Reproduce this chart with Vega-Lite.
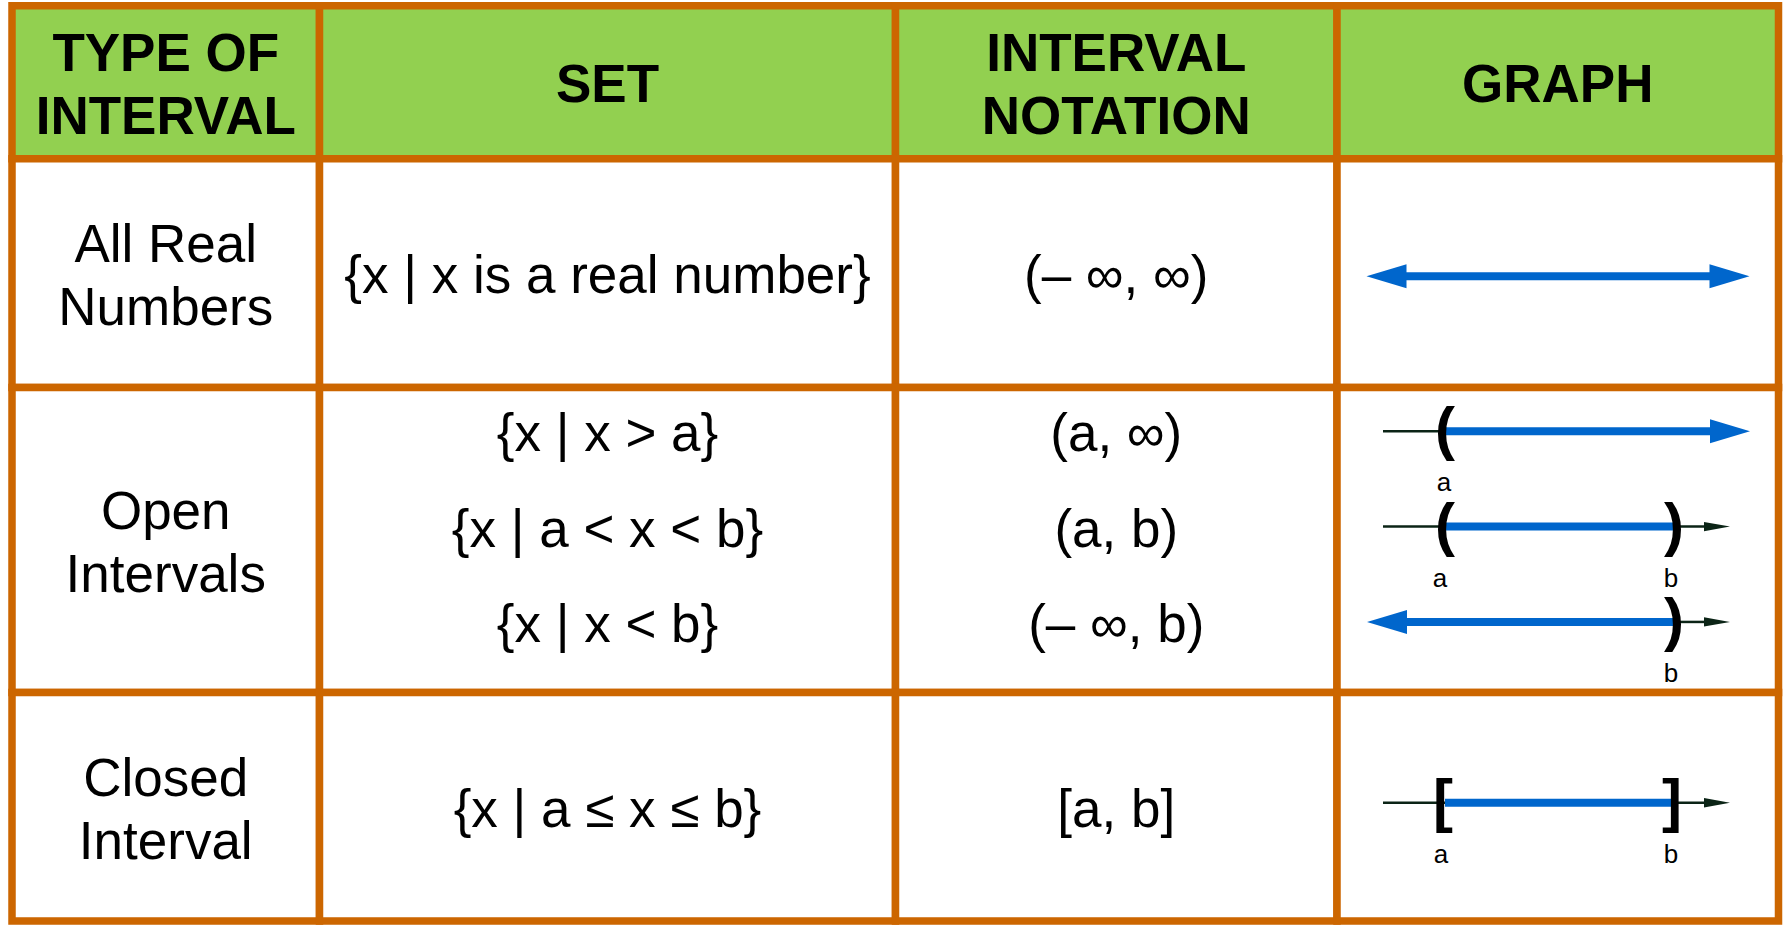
{
  "$schema": "https://vega.github.io/schema/vega-lite/v6.json",
  "width": 1785,
  "height": 925,
  "autosize": {"type": "fit", "contains": "padding"},
  "padding": 0,
  "background": "#ffffff",
  "config": {"view": {"stroke": null}, "font": "Liberation Sans"},
  "datasets": {
    "cells": [
      {"part": "header", "x": 12, "x2": 319.5, "y": 5.7, "y2": 159.7},
      {"part": "header", "x": 319.5, "x2": 895.5, "y": 5.7, "y2": 159.7},
      {"part": "header", "x": 895.5, "x2": 1337, "y": 5.7, "y2": 159.7},
      {"part": "header", "x": 1337, "x2": 1778.5, "y": 5.7, "y2": 159.7},
      {"part": "body", "x": 12, "x2": 319.5, "y": 159.7, "y2": 390},
      {"part": "body", "x": 319.5, "x2": 895.5, "y": 159.7, "y2": 390},
      {"part": "body", "x": 895.5, "x2": 1337, "y": 159.7, "y2": 390},
      {"part": "body", "x": 1337, "x2": 1778.5, "y": 159.7, "y2": 390},
      {"part": "body", "x": 12, "x2": 319.5, "y": 390, "y2": 697},
      {"part": "body", "x": 319.5, "x2": 895.5, "y": 390, "y2": 697},
      {"part": "body", "x": 895.5, "x2": 1337, "y": 390, "y2": 697},
      {"part": "body", "x": 1337, "x2": 1778.5, "y": 390, "y2": 697},
      {"part": "body", "x": 12, "x2": 319.5, "y": 697, "y2": 927},
      {"part": "body", "x": 319.5, "x2": 895.5, "y": 697, "y2": 927},
      {"part": "body", "x": 895.5, "x2": 1337, "y": 697, "y2": 927},
      {"part": "body", "x": 1337, "x2": 1778.5, "y": 697, "y2": 927}
    ],
    "headers": [
      {"x": 165.75, "y": 82.7, "t": "TYPE OF\nINTERVAL", "lines": 2},
      {"x": 607.5, "y": 82.7, "t": "SET", "lines": 1},
      {"x": 1116.25, "y": 82.7, "t": "INTERVAL\nNOTATION", "lines": 2},
      {"x": 1557.75, "y": 82.7, "t": "GRAPH", "lines": 1}
    ],
    "body": [
      {"x": 165.75, "y": 274.85, "t": "All Real\nNumbers", "lines": 2},
      {"x": 165.75, "y": 543.5, "t": "Open\nIntervals", "lines": 2},
      {"x": 165.75, "y": 812, "t": "Closed\nInterval", "lines": 2},
      {"x": 607.5, "y": 274.85, "t": "{x | x is a real number}", "lines": 1},
      {"x": 607.5, "y": 434, "t": "{x | x > a}", "lines": 1},
      {"x": 607.5, "y": 530, "t": "{x | a < x < b}", "lines": 1},
      {"x": 607.5, "y": 626, "t": "{x | x < b}", "lines": 1},
      {"x": 607.5, "y": 812, "t": "{x | a ≤ x ≤ b}", "lines": 1},
      {"x": 1116.25, "y": 274.85, "t": "(– ∞, ∞)", "lines": 1},
      {"x": 1116.25, "y": 434, "t": "(a, ∞)", "lines": 1},
      {"x": 1116.25, "y": 530, "t": "(a, b)", "lines": 1},
      {"x": 1116.25, "y": 626, "t": "(– ∞, b)", "lines": 1},
      {"x": 1116.25, "y": 812, "t": "[a, b]", "lines": 1}
    ],
    "axisLines": [
      {"graph": "x > a", "x": 1383, "x2": 1712, "y": 434},
      {"graph": "a < x < b", "x": 1383, "x2": 1706, "y": 530},
      {"graph": "x < b", "x": 1677, "x2": 1706, "y": 626},
      {"graph": "a ≤ x ≤ b", "x": 1383, "x2": 1706, "y": 808}
    ],
    "intervals": [
      {"graph": "all", "x": 1395, "x2": 1722, "y": 278},
      {"graph": "x > a", "x": 1445, "x2": 1722, "y": 434},
      {"graph": "a < x < b", "x": 1445, "x2": 1675, "y": 530},
      {"graph": "x < b", "x": 1395, "x2": 1677, "y": 626},
      {"graph": "a ≤ x ≤ b", "x": 1445, "x2": 1673, "y": 808}
    ],
    "arrows": [
      {"graph": "all", "kind": "interval", "dir": "left", "x": 1366.5, "y": 278},
      {"graph": "all", "kind": "interval", "dir": "right", "x": 1749.5, "y": 278},
      {"graph": "x > a", "kind": "interval", "dir": "right", "x": 1750, "y": 434},
      {"graph": "a < x < b", "kind": "axis", "dir": "right", "x": 1730, "y": 530},
      {"graph": "x < b", "kind": "interval", "dir": "left", "x": 1367, "y": 626},
      {"graph": "x < b", "kind": "axis", "dir": "right", "x": 1730, "y": 626},
      {"graph": "a ≤ x ≤ b", "kind": "axis", "dir": "right", "x": 1730, "y": 808}
    ],
    "brackets": [
      {"graph": "x > a", "x": 1445, "y": 434, "t": "("},
      {"graph": "a < x < b", "x": 1445, "y": 530, "t": "("},
      {"graph": "a < x < b", "x": 1674, "y": 530, "t": ")"},
      {"graph": "x < b", "x": 1674, "y": 626, "t": ")"},
      {"graph": "a ≤ x ≤ b", "x": 1443, "y": 808, "t": "["},
      {"graph": "a ≤ x ≤ b", "x": 1672, "y": 808, "t": "]"}
    ],
    "endLabels": [
      {"graph": "x > a", "x": 1444, "y": 434, "t": "a"},
      {"graph": "a < x < b", "x": 1440, "y": 530, "t": "a"},
      {"graph": "a < x < b", "x": 1671, "y": 530, "t": "b"},
      {"graph": "x < b", "x": 1671, "y": 626, "t": "b"},
      {"graph": "a ≤ x ≤ b", "x": 1441, "y": 808, "t": "a"},
      {"graph": "a ≤ x ≤ b", "x": 1671, "y": 808, "t": "b"}
    ]
  },
  "encoding": {
    "x": {"field": "x", "type": "quantitative", "scale": {"domain": [0, 1785], "nice": false, "zero": false}, "axis": null},
    "y": {"field": "y", "type": "quantitative", "scale": {"domain": [0, 925], "nice": false, "zero": false, "reverse": true}, "axis": null}
  },
  "layer": [
    {
      "data": {"name": "cells"},
      "mark": {"type": "rect", "stroke": "#CC6600", "strokeWidth": 7.5},
      "encoding": {
        "x2": {"field": "x2"},
        "y2": {"field": "y2"},
        "color": {"field": "part", "type": "nominal", "scale": {"domain": ["header", "body"], "range": ["#92D050", "#FFFFFF"]}, "legend": null}
      }
    },
    {
      "data": {"name": "headers"},
      "transform": [{"filter": "datum.lines == 1"}],
      "mark": {"type": "text", "font": "Liberation Sans", "fontWeight": "bold", "fontSize": 53, "align": "center", "baseline": "middle", "dy": 4, "color": "#000000"},
      "encoding": {"text": {"field": "t"}}
    },
    {
      "data": {"name": "headers"},
      "transform": [{"filter": "datum.lines == 2"}],
      "mark": {"type": "text", "font": "Liberation Sans", "fontWeight": "bold", "fontSize": 53, "lineHeight": 63.4, "lineBreak": "\n", "align": "center", "baseline": "middle", "dy": -27.2, "color": "#000000"},
      "encoding": {"text": {"field": "t"}}
    },
    {
      "data": {"name": "body"},
      "transform": [{"filter": "datum.lines == 1"}],
      "mark": {"type": "text", "font": "Liberation Sans", "fontSize": 53, "align": "center", "baseline": "middle", "dy": 4, "color": "#000000"},
      "encoding": {"text": {"field": "t"}}
    },
    {
      "data": {"name": "body"},
      "transform": [{"filter": "datum.lines == 2"}],
      "mark": {"type": "text", "font": "Liberation Sans", "fontSize": 53, "lineHeight": 63.4, "lineBreak": "\n", "align": "center", "baseline": "middle", "dy": -27.2, "color": "#000000"},
      "encoding": {"text": {"field": "t"}}
    },
    {
      "data": {"name": "axisLines"},
      "mark": {"type": "rule", "color": "#0B2416", "strokeWidth": 2.5},
      "encoding": {"x2": {"field": "x2"}}
    },
    {
      "data": {"name": "intervals"},
      "mark": {"type": "rule", "color": "#0066CC", "strokeWidth": 8},
      "encoding": {"x2": {"field": "x2"}}
    },
    {
      "data": {"name": "arrows"},
      "transform": [{"filter": "datum.kind == 'interval' && datum.dir == 'right'"}],
      "mark": {"type": "point", "shape": "M0,0L-2,-0.6L-2,0.6Z", "size": 1600, "filled": true, "opacity": 1, "color": "#0066CC", "strokeWidth": 0}
    },
    {
      "data": {"name": "arrows"},
      "transform": [{"filter": "datum.kind == 'interval' && datum.dir == 'left'"}],
      "mark": {"type": "point", "shape": "M0,0L2,-0.6L2,0.6Z", "size": 1600, "filled": true, "opacity": 1, "color": "#0066CC", "strokeWidth": 0}
    },
    {
      "data": {"name": "arrows"},
      "transform": [{"filter": "datum.kind == 'axis'"}],
      "mark": {"type": "point", "shape": "M0,0L-2,-0.36L-2,0.36Z", "size": 676, "filled": true, "opacity": 1, "color": "#0B2416", "strokeWidth": 0}
    },
    {
      "data": {"name": "brackets"},
      "mark": {"type": "text", "font": "Liberation Sans", "fontWeight": "bold", "fontSize": 60, "align": "center", "baseline": "middle", "color": "#000000"},
      "encoding": {"text": {"field": "t"}}
    },
    {
      "data": {"name": "endLabels"},
      "mark": {"type": "text", "font": "Liberation Sans", "fontSize": 26, "align": "center", "baseline": "alphabetic", "dy": 60, "color": "#000000"},
      "encoding": {"text": {"field": "t"}}
    }
  ]
}
